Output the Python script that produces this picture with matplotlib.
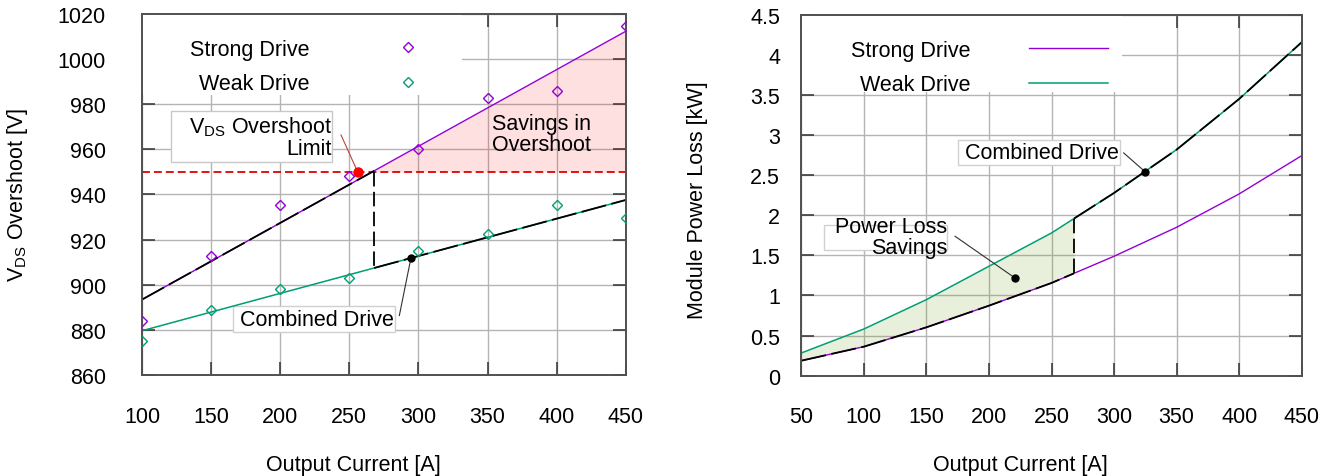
import numpy as np
import matplotlib
matplotlib.use('Agg')
import matplotlib.pyplot as plt
from matplotlib.patches import Rectangle
from matplotlib.lines import Line2D

plt.rcParams['font.family'] = ['Liberation Sans', 'DejaVu Sans']
plt.rcParams['mathtext.fontset'] = 'custom'
plt.rcParams['mathtext.rm'] = 'Liberation Sans'
plt.rcParams['mathtext.it'] = 'Liberation Sans:italic'
plt.rcParams['mathtext.bf'] = 'Liberation Sans:bold'

# ---------------- data: left (VDS overshoot) ----------------
current = [100, 150, 200, 250, 300, 350, 400, 450]
strong_vds = [884.0, 912.6, 935.4, 948.0, 960.1, 982.7, 985.9, 1014.4]
weak_vds = [875.2, 888.9, 898.2, 903.0, 915.1, 922.6, 935.2, 929.4]
fit_current = [100, 450]
strong_fit = [893.4, 1012.2]
weak_fit = [879.6, 937.5]
vds_limit = 950
switch_current = 268
limit_dot = (256, 950)
limit_note_from = (244, 966.3)
combined_dot_left = (294.6, 911.8)
combined_note_left_from = (286.2, 886.3)

# ---------------- data: right (power loss) ----------------
pl_current = [50, 100, 150, 200, 250, 300, 350, 400, 450]
strong_pl = [0.187, 0.362, 0.603, 0.873, 1.156, 1.489, 1.85, 2.266, 2.743]
weak_pl = [0.283, 0.582, 0.948, 1.364, 1.779, 2.278, 2.818, 3.45, 4.157]
pl_switch = 268
combined_dot_right = (325, 2.54)
combined_note_right_from = (307.7, 2.777)
savings_dot = (220.8, 1.218)
savings_note_from = (172.9, 1.738)

left_xticks = [100, 150, 200, 250, 300, 350, 400, 450]
left_yticks = [860, 880, 900, 920, 940, 960, 980, 1000, 1020]
right_xticks = [50, 100, 150, 200, 250, 300, 350, 400, 450]
right_yticks = [0, 0.5, 1, 1.5, 2, 2.5, 3, 3.5, 4, 4.5]
right_ylabels = ['0', '0.5', '1', '1.5', '2', '2.5', '3', '3.5', '4', '4.5']

PURPLE = '#9400d3'
GREEN = '#009e73'
RED = '#e00000'
FS = 15.5

W, H = 1327, 477
fig = plt.figure(figsize=(W / 100, H / 100), dpi=100)


def px_axes(x0, y0, x1, y1):
    return fig.add_axes([x0 / W, 1 - y1 / H, (x1 - x0) / W, (y1 - y0) / H])


ax1 = px_axes(142, 14.7, 625.7, 376)
ax2 = px_axes(801.3, 15.7, 1301.7, 376.7)


def style(ax, ypad):
    ax.grid(True, color='#b4b4b4', lw=1.0)
    ax.set_axisbelow(True)
    for s in ax.spines.values():
        s.set_color('#505050')
        s.set_linewidth(1.4)
    ax.tick_params(axis='both', direction='in', length=9.5, width=1.1,
                   color='#303030', top=True, right=True, labelsize=FS)
    ax.tick_params(axis='x', pad=22)
    ax.tick_params(axis='y', pad=ypad)


style(ax1, 26)
style(ax2, 15.3)

# ---------------- left plot ----------------
ax1.set_xlim(100, 450)
ax1.set_ylim(860, 1020)
ax1.set_xticks(left_xticks)
ax1.set_yticks(left_yticks)

# legend background
ax1.add_patch(Rectangle((0, (376 - 96) / 361.3), (462 - 142) / 483.7, 1,
                        transform=ax1.transAxes, facecolor='white',
                        edgecolor='none', zorder=1.5))

fill_x = np.array([switch_current, 300, 350, 400, 450])
fill_top = np.interp(fill_x, fit_current, strong_fit)
ax1.fill_between(fill_x, vds_limit, fill_top, color='red', alpha=0.12,
                 lw=0, zorder=1)

ax1.plot(fit_current, strong_fit, color=PURPLE, lw=1.0, zorder=2)
ax1.plot(fit_current, weak_fit, color=GREEN, lw=1.1, zorder=2)
ax1.plot(current, strong_vds, 'D', mfc='none', mec=PURPLE, ms=5.3, mew=1.0,
         zorder=3)
ax1.plot(current, weak_vds, 'D', mfc='none', mec=GREEN, ms=5.3, mew=1.0,
         zorder=3)
ax1.axhline(vds_limit, color=RED, lw=1.3, dashes=(4.4, 2.2), zorder=2.2)

sw_strong = np.interp(switch_current, fit_current, strong_fit)
sw_weak = np.interp(switch_current, fit_current, weak_fit)
ax1.plot([fit_current[0], switch_current], [strong_fit[0], sw_strong],
         color='black', lw=1.3, dashes=(14, 3), zorder=2.3)
ax1.plot([switch_current, switch_current], [vds_limit, sw_weak],
         color='black', lw=1.3, dashes=(8, 3), zorder=2.3)
ax1.plot([switch_current, fit_current[1]], [sw_weak, weak_fit[1]],
         color='black', lw=1.3, dashes=(14, 3), zorder=2.3)

ax1.plot(*limit_dot, 'o', color='red', ms=6.5, zorder=4)
ax1.plot(*combined_dot_left, 'o', color='black', ms=5, zorder=4)
ax1.plot([limit_note_from[0], limit_dot[0]], [limit_note_from[1], limit_dot[1]],
         color='#c04040', lw=0.8, zorder=3.5)
ax1.plot([combined_note_left_from[0], combined_dot_left[0]],
         [combined_note_left_from[1], combined_dot_left[1]],
         color='#303030', lw=0.8, zorder=3.5)

# annotation boxes
ax1.add_patch(Rectangle((120.8, 954.3), 237.5 - 120.8, 976.9 - 954.3,
                        facecolor='white', edgecolor='#c8c8c8', lw=1.0,
                        zorder=1.6))
ax1.add_patch(Rectangle((166.0, 878.9), 283.0 - 166.0, 890.7 - 878.9,
                        facecolor='white', edgecolor='#d0d0d0', lw=1.0,
                        zorder=1.6))
ax1.text(237.5, 965.6, 'V$_{\\mathrm{DS}}$ Overshoot\nLimit', ha='right',
         va='center', multialignment='right', fontsize=FS, linespacing=1.0,
         zorder=4)
ax1.text(353.6, 966.8, 'Savings in\nOvershoot', ha='left', va='center',
         fontsize=FS, linespacing=1.0, zorder=4)
ax1.text(282.3, 884.5, 'Combined Drive', ha='right', va='center',
         fontsize=FS, zorder=4)

h1 = [Line2D([], [], marker='D', ls='none', mfc='none', mec=PURPLE, ms=5.3),
      Line2D([], [], marker='D', ls='none', mfc='none', mec=GREEN, ms=5.3)]
leg1 = ax1.legend(h1, ['Strong Drive', 'Weak Drive'], loc='upper right',
                  bbox_to_anchor=(0.6326, 0.93), frameon=False,
                  markerfirst=False, fontsize=FS, handlelength=3.67,
                  handletextpad=2.74, labelspacing=0.61, borderpad=0,
                  borderaxespad=0)
leg1.set_zorder(4)

ax1.set_xlabel('Output Current [A]', fontsize=FS)
ax1.xaxis.label.set_va('center')
ax1.xaxis.set_label_coords(0.437, (376 - 466) / 361.3)
ax1.set_ylabel('V$_{\\mathrm{DS}}$ Overshoot [V]', fontsize=FS)
ax1.yaxis.label.set_va('center')
ax1.yaxis.set_label_coords((18 - 142) / 483.7, 0.5)

# ---------------- right plot ----------------
ax2.set_xlim(50, 450)
ax2.set_ylim(0, 4.5)
ax2.set_xticks(right_xticks)
ax2.set_yticks(right_yticks)
ax2.set_yticklabels(right_ylabels)

ax2.add_patch(Rectangle((0, (376.7 - 93) / 361), (1122 - 801.3) / 500.4, 1,
                        transform=ax2.transAxes, facecolor='white',
                        edgecolor='none', zorder=1.5))

pl_x = np.array(pl_current, dtype=float)
sw_s = np.interp(pl_switch, pl_current, strong_pl)
sw_w = np.interp(pl_switch, pl_current, weak_pl)
low_mask = pl_x < pl_switch
fx = np.append(pl_x[low_mask], pl_switch)
ax2.fill_between(fx, np.append(np.array(strong_pl)[low_mask], sw_s),
                 np.append(np.array(weak_pl)[low_mask], sw_w),
                 color='#669b16', alpha=0.15, lw=0, zorder=1)

ax2.plot(pl_current, strong_pl, color=PURPLE, lw=1.0, zorder=2)
ax2.plot(pl_current, weak_pl, color=GREEN, lw=1.1, zorder=2)

ax2.plot(fx, np.append(np.array(strong_pl)[low_mask], sw_s), color='black',
         lw=1.3, dashes=(14, 3), zorder=2.3)
ax2.plot([pl_switch, pl_switch], [sw_s, sw_w], color='black', lw=1.3,
         dashes=(8, 3), zorder=2.3)
hi_mask = pl_x > pl_switch
ax2.plot(np.insert(pl_x[hi_mask], 0, pl_switch),
         np.insert(np.array(weak_pl)[hi_mask], 0, sw_w), color='black',
         lw=1.3, dashes=(14, 3), zorder=2.3)

ax2.plot(*combined_dot_right, 'o', color='black', ms=5, zorder=4)
ax2.plot(*savings_dot, 'o', color='black', ms=5, zorder=4)
ax2.plot([combined_note_right_from[0], combined_dot_right[0]],
         [combined_note_right_from[1], combined_dot_right[1]],
         color='#303030', lw=0.8, zorder=3.5)
ax2.plot([savings_note_from[0], savings_dot[0]],
         [savings_note_from[1], savings_dot[1]],
         color='#303030', lw=0.8, zorder=3.5)

ax2.add_patch(Rectangle((175, 2.63), 305 - 175, 2.94 - 2.63,
                        facecolor='white', edgecolor='#d0d0d0', lw=1.0,
                        zorder=1.6))
ax2.add_patch(Rectangle((68, 1.571), 166.8 - 68, 1.883 - 1.571,
                        facecolor='white', edgecolor='#d0d0d0', lw=1.0,
                        zorder=1.6))
ax2.text(304, 2.785, 'Combined Drive', ha='right', va='center', fontsize=FS,
         zorder=4)
ax2.text(166.8, 1.731, 'Power Loss\nSavings', ha='right', va='center',
         multialignment='right', fontsize=FS, linespacing=1.0, zorder=4)

h2 = [Line2D([], [], color=PURPLE, lw=1.0),
      Line2D([], [], color=GREEN, lw=1.1)]
leg2 = ax2.legend(h2, ['Strong Drive', 'Weak Drive'], loc='upper right',
                  bbox_to_anchor=(0.613, 0.93), frameon=False,
                  markerfirst=False, fontsize=FS, handlelength=3.67,
                  handletextpad=2.74, labelspacing=0.61, borderpad=0,
                  borderaxespad=0)
leg2.set_zorder(4)

ax2.set_xlabel('Output Current [A]', fontsize=FS)
ax2.xaxis.label.set_va('center')
ax2.xaxis.set_label_coords(0.437, (376.7 - 466) / 361)
ax2.set_ylabel('Module Power Loss [kW]', fontsize=FS)
ax2.yaxis.label.set_va('center')
ax2.yaxis.set_label_coords((697 - 801.3) / 500.4, 0.49)

fig.savefig('out.png', dpi=100)
